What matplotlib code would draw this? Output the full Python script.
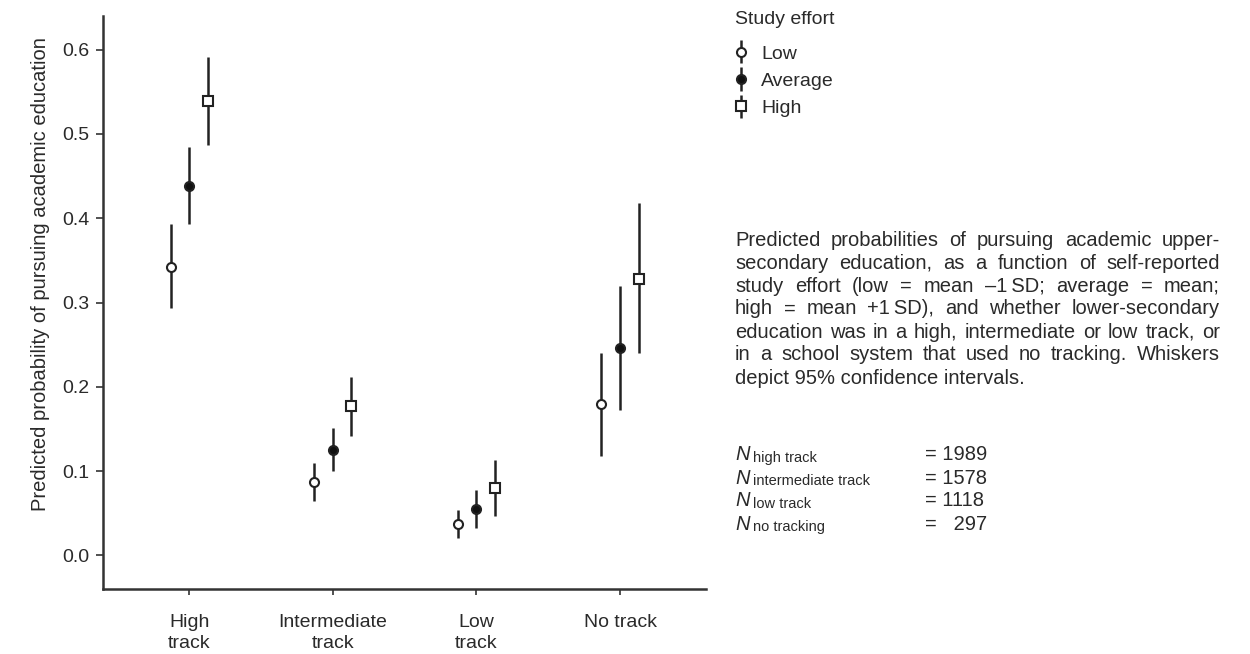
import matplotlib.pyplot as plt
import numpy as np
from matplotlib.container import ErrorbarContainer
from matplotlib.legend_handler import HandlerErrorbar

plt.rcParams['font.family'] = ['Liberation Sans', 'DejaVu Sans']
FS = 14
TXT = '#2a2a2a'

tracks = ['High\ntrack', 'Intermediate\ntrack', 'Low\ntrack', 'No track']
efforts = ['Low', 'Average', 'High']

# predicted probability, lower and upper 95% CI (rows: effort, cols: track)
prob = [[0.342, 0.087, 0.037, 0.179],
        [0.438, 0.125, 0.055, 0.246],
        [0.539, 0.177, 0.080, 0.328]]
lower = [[0.293, 0.065, 0.020, 0.118],
         [0.393, 0.100, 0.032, 0.173],
         [0.487, 0.142, 0.047, 0.240]]
upper = [[0.393, 0.109, 0.054, 0.240],
         [0.485, 0.151, 0.078, 0.319],
         [0.591, 0.212, 0.113, 0.418]]

n_labels = ['high track', 'intermediate track', 'low track', 'no tracking']
n_values = ['1989', '1578', '1118', '  297']

W, H = 1250, 654
fig = plt.figure(figsize=(12.5, 6.54), dpi=100)
ax = fig.add_axes([0.0824, 0.0994, 0.4826, 0.8761])

x = np.arange(1, 5)
offsets = [-0.13, 0.0, 0.13]
styles = [dict(fmt='o', mfc='white', ms=6.5),
          dict(fmt='o', mfc='#111111', ms=6.5),
          dict(fmt='s', mfc='white', ms=7)]
handles = []
for i in range(3):
    p = np.array(prob[i])
    err = [p - np.array(lower[i]), np.array(upper[i]) - p]
    h = ax.errorbar(x + offsets[i], p, yerr=err, ecolor='#222222', elinewidth=1.8,
                    capsize=0, mec='#222222', mew=1.5, color='#222222',
                    zorder=3, **styles[i])
    handles.append(h)

ax.set_xlim(0.4, 4.6)
ax.set_ylim(-0.04, 0.64)
ax.set_xticks(x)
ax.set_xticklabels(tracks, fontsize=FS, color=TXT, linespacing=1.3)
ax.set_yticks([0.0, 0.1, 0.2, 0.3, 0.4, 0.5, 0.6])
ax.set_yticklabels(['0.0', '0.1', '0.2', '0.3', '0.4', '0.5', '0.6'],
                   fontsize=FS, color=TXT)
ax.tick_params(axis='x', length=4, width=1.2, pad=14, color='#333333')
ax.tick_params(axis='y', length=5, width=1.2, pad=4.5, color='#333333')
for s in ['top', 'right']:
    ax.spines[s].set_visible(False)
for s in ['left', 'bottom']:
    ax.spines[s].set_linewidth(1.8)
    ax.spines[s].set_color('#333333')
ax.set_ylabel('Predicted probability of pursuing academic education',
              fontsize=14.5, color=TXT, va='center')
ax.yaxis.set_label_coords(-0.104, 0.55)

# legend
fig.text(735 / W, 1 - 19 / H, 'Study effort', fontsize=FS, color=TXT, va='center')
leg = fig.legend(handles, efforts, loc='upper left',
                 bbox_to_anchor=(733 / W, 1 - 43 / H),
                 frameon=False, fontsize=FS, handlelength=0.6, handletextpad=0.75,
                 labelspacing=0.5, borderpad=0.1, borderaxespad=0,
                 handler_map={ErrorbarContainer: HandlerErrorbar(xerr_size=0.5, yerr_size=0.6)})
for t in leg.get_texts():
    t.set_color(TXT)

caption = ['Predicted probabilities of pursuing academic upper-',
           'secondary education, as a function of self-reported',
           'study effort (low = mean \u20131\u2009SD; average = mean;',
           'high = mean +1\u2009SD), and whether lower-secondary',
           'education was in a high, intermediate or low track, or',
           'in a school system that used no tracking. Whiskers',
           'depict 95% confidence intervals.']

# justified caption block
CFS = 14.5
renderer = fig.canvas.get_renderer()
left_px, right_px = 735, 1220
for k, line in enumerate(caption):
    yy = 1 - (240 + k * 23) / H
    words = line.split(' ')
    if k == len(caption) - 1:
        fig.text(left_px / W, yy, line, fontsize=CFS, color=TXT, va='center')
        continue
    arts = [fig.text(0, yy, w_, fontsize=CFS, color=TXT, va='center') for w_ in words]
    widths = [a.get_window_extent(renderer).width for a in arts]
    gap = (right_px - left_px - sum(widths)) / (len(words) - 1)
    pos = left_px
    for a, wd in zip(arts, widths):
        a.set_x(pos / W)
        pos += wd + gap

for k in range(4):
    yy = 1 - (455 + k * 23) / H
    fig.text(735 / W, yy, 'N', fontsize=CFS, style='italic', va='center', color=TXT)
    fig.text(753 / W, yy - 0.004, n_labels[k], fontsize=10.5, va='center', color=TXT)
    fig.text(925 / W, yy, '= ' + n_values[k], fontsize=CFS, va='center', color=TXT)

fig.savefig('out.png', dpi=100)
